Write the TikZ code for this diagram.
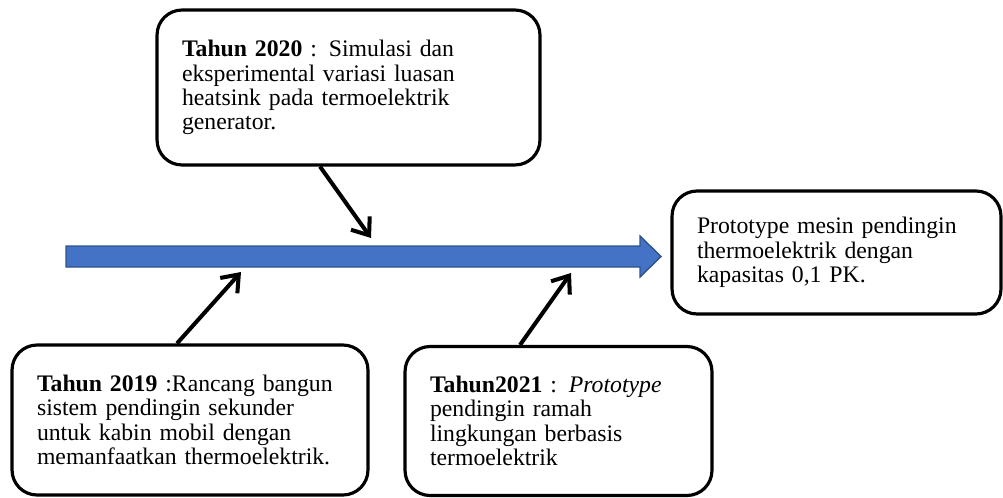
\documentclass[tikz,border=0pt]{standalone}
\usepackage{fontspec}
\setmainfont{Liberation Serif}
\usetikzlibrary{arrows.meta}
\definecolor{lineblue}{HTML}{4472C4}
\definecolor{lineedge}{HTML}{2F528F}
\tikzset{
  box/.style={draw,line width=1.8pt,rounded corners=0.5cm,align=left,inner xsep=0.5cm,
    font=\fontsize{13.5}{13.8}\selectfont},
  pointer/.style={line width=2.3pt,-{Straight Barb[length=3mm,width=4.6mm]}}
}
\begin{document}
\begin{tikzpicture}[x=0.02cm,y=-0.02cm]
  \useasboundingbox (0,0) rectangle (1003,497);
  % time line
  \draw[lineedge,fill=lineblue,line width=0.8pt] (66,246) -- (640,246) -- (640,236) -- (661,256.5)
    -- (640,277) -- (640,267) -- (66,267) -- cycle;
  \coordinate (hit2020) at (371,238);
  \coordinate (hit2019) at (241,272);
  \coordinate (hit2021) at (571,273);
  % years
  \node[box,text width=6.66cm,minimum height=3.1cm] (y2020) at (348.5,87.5)
    {\textbf{Tahun 2020} : Simulasi dan\\eksperimental variasi luasan\\heatsink pada termoelektrik\\generator.};
  \node[box,text width=6.12cm,minimum height=3.0cm] (y2019) at (190,420)
    {\textbf{Tahun 2019} :Rancang bangun\\sistem pendingin sekunder\\untuk kabin mobil dengan\\memanfaatkan thermoelektrik.};
  \node[box,text width=5.14cm,minimum height=2.98cm] (y2021) at (558.5,421)
    {\textbf{Tahun2021} : \emph{Prototype}\\pendingin ramah\\lingkungan berbasis\\termoelektrik};
  \node[box,text width=5.58cm,minimum height=2.46cm] (goal) at (836.5,252.5)
    {Prototype mesin pendingin\\thermoelektrik dengan\\kapasitas 0,1 PK.};
  % pointers
  \draw[pointer] ([xshift=-0.57cm]y2020.south) -- (hit2020);
  \draw[pointer] ([xshift=-0.26cm]y2019.north) -- (hit2019);
  \draw[pointer] ([xshift=-0.77cm]y2021.north) -- (hit2021);
\end{tikzpicture}
\end{document}
